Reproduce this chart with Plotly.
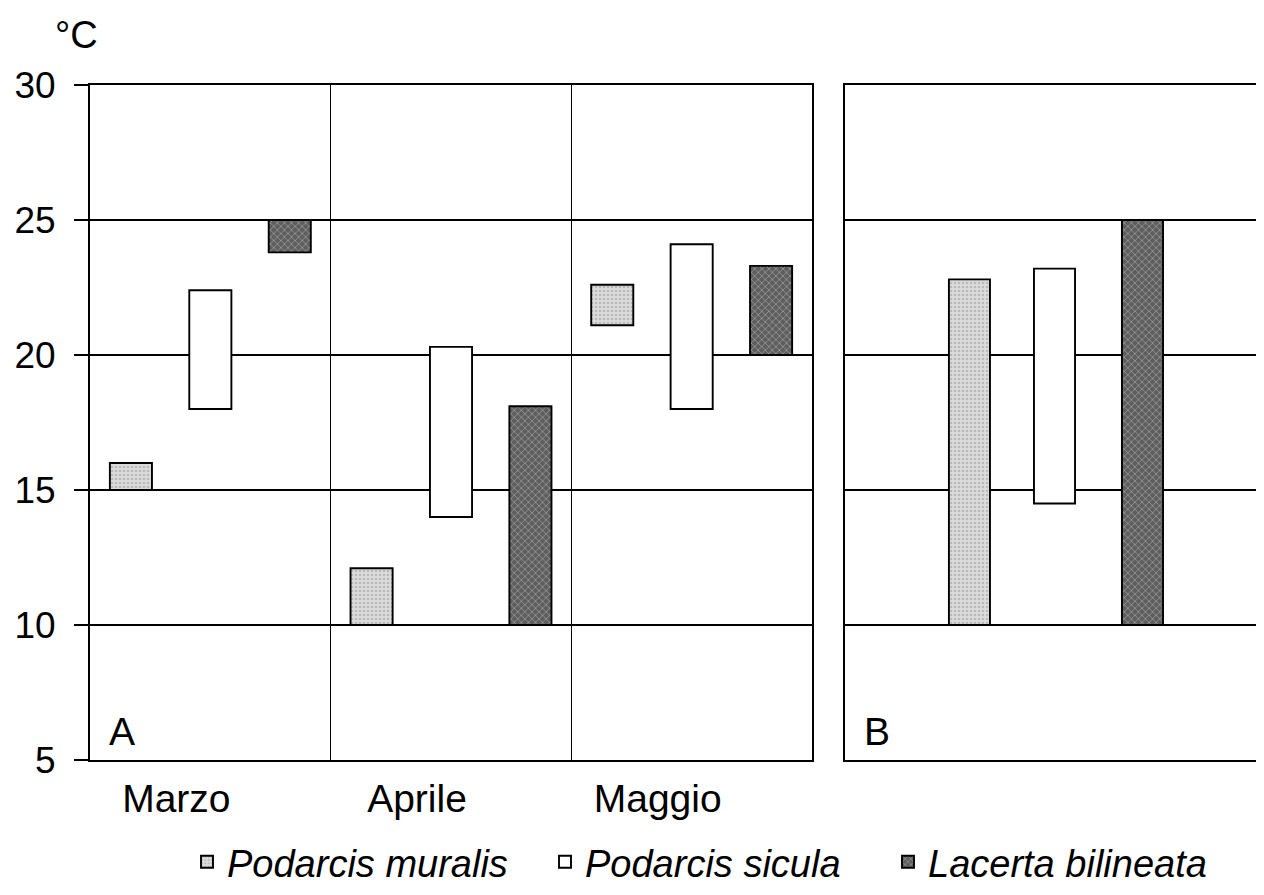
import plotly.graph_objects as go

months = ["Marzo", "Aprile", "Maggio"]
species = ["Podarcis muralis", "Podarcis sicula", "Lacerta bilineata"]

# Panel A: temperature range (min, max) per month
muralis_low = [15.0, 10.0, 21.1]
muralis_high = [16.0, 12.1, 22.6]
sicula_low = [18.0, 14.0, 18.0]
sicula_high = [22.4, 20.3, 24.1]
bilineata_low = [23.8, 10.0, 20.0]
bilineata_high = [25.0, 18.1, 23.3]

# Panel B: overall range per species
total_low = [10.0, 14.5, 10.0]
total_high = [22.8, 23.2, 25.0]

y_ticks = [5, 10, 15, 20, 25, 30]

FONT = "Liberation Sans, Arial, sans-serif"
LW = 1.9

styles = [
    dict(color="#dcdcdc", pattern=dict(shape=".", fgcolor="#969696", size=4, solidity=0.35)),
    dict(color="#ffffff"),
    dict(color="#5e5e5e", pattern=dict(shape="x", fgcolor="#cfcfcf", size=5, solidity=0.3)),
]

lows_a = [muralis_low, sicula_low, bilineata_low]
highs_a = [muralis_high, sicula_high, bilineata_high]
legend_ids = ["legend", "legend2", "legend3"]

fig = go.Figure()
for i, sp in enumerate(species):
    fig.add_trace(go.Bar(
        x=months,
        y=[h - l for h, l in zip(highs_a[i], lows_a[i])],
        base=lows_a[i],
        name=sp,
        legend=legend_ids[i],
        marker=dict(line=dict(color="black", width=LW), **styles[i]),
        xaxis="x", yaxis="y",
    ))

# panel B
offsets_b = [-0.252, -0.049, 0.161]
for i, sp in enumerate(species):
    fig.add_trace(go.Bar(
        x=["B"],
        y=[total_high[i] - total_low[i]],
        base=[total_low[i]],
        name=sp,
        showlegend=False,
        width=0.098,
        offset=offsets_b[i],
        marker=dict(line=dict(color="black", width=LW), **styles[i]),
        xaxis="x2", yaxis="y2",
    ))

# the page has an 8px body margin; size the figure so the page fits the window exactly
W, H = 1248, 879
L, R, T, B = 82, 0, 77, 127
pw = W - L - R          # plot width in px (page x 90 .. 1256)
def px2paper(px):
    return (px - 90) / pw

xa_end = (812 - 90) / pw
xb_start = (845 - 90) / pw
b_px_per_unit = 419.0
b_span = (pw * (1 - xb_start)) / b_px_per_unit

leg_font = dict(family=FONT, size=38, color="black", style="italic")
leg_y = 1 - (862 - 8) / H
leg_common = dict(orientation="h", xanchor="left", yref="container", y=leg_y, yanchor="middle",
                  font=leg_font, bgcolor="rgba(0,0,0,0)", itemwidth=30)

fig.update_layout(
    width=W, height=H,
    margin=dict(l=L, r=R, t=T, b=B, autoexpand=False),
    paper_bgcolor="white", plot_bgcolor="white",
    barmode="group", bargap=0.01, bargroupgap=0.47,
    font=dict(family=FONT, size=37, color="black"),
    showlegend=True,
    legend=dict(x=px2paper(187), **leg_common),
    legend2=dict(x=px2paper(545), **leg_common),
    legend3=dict(x=px2paper(888), **leg_common),
    xaxis=dict(
        domain=[0, xa_end], type="category", automargin=False,
        showline=True, linecolor="black", linewidth=LW, mirror=True,
        showgrid=True, gridcolor="black", gridwidth=1.4, tickson="boundaries",
        ticks="", ticklabelshift=-34, ticklabelstandoff=3,
        tickfont=dict(family=FONT, size=39, color="black"),
        zeroline=False, fixedrange=True,
    ),
    yaxis=dict(
        domain=[0, 1], range=[5, 30], tickvals=y_ticks, automargin=False,
        showline=True, linecolor="black", linewidth=LW, mirror=True,
        showgrid=True, gridcolor="black", gridwidth=LW,
        ticks="outside", ticklen=14, tickwidth=LW, tickcolor="black",
        ticklabelstandoff=11,
        tickfont=dict(family=FONT, size=37, color="black"),
        zeroline=False, anchor="x",
    ),
    xaxis2=dict(
        domain=[xb_start, 1], type="category", range=[-0.5, -0.5 + b_span],
        automargin=False,
        showline=True, linecolor="black", linewidth=LW, mirror=True,
        showgrid=False, showticklabels=False, ticks="",
        zeroline=False, anchor="y2",
    ),
    yaxis2=dict(
        domain=[0, 1], range=[5, 30], tickvals=y_ticks, automargin=False,
        showline=True, linecolor="black", linewidth=LW,
        showgrid=True, gridcolor="black", gridwidth=LW,
        showticklabels=False, ticks="",
        zeroline=False, anchor="x2",
    ),
    annotations=[
        dict(text="°C", xref="paper", yref="paper", x=px2paper(76), y=(760 - 35) / 675,
             showarrow=False, xanchor="center", yanchor="middle",
             font=dict(family=FONT, size=38, color="black")),
        dict(text="A", xref="x domain", yref="y domain", x=(122 - 90) / 722, y=(760 - 731) / 675,
             showarrow=False, xanchor="center", yanchor="middle",
             font=dict(family=FONT, size=39, color="black")),
        dict(text="B", xref="paper", yref="y2 domain", x=px2paper(877), y=(760 - 731) / 675,
             showarrow=False, xanchor="center", yanchor="middle",
             font=dict(family=FONT, size=39, color="black")),
    ],
)

fig.write_html("out.html")
